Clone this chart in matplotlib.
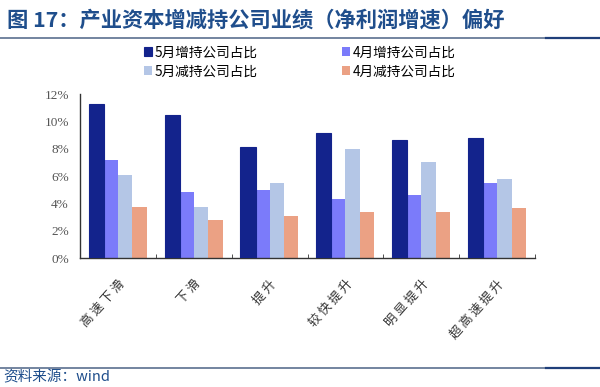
""" 产业资本增减持公司业绩（净利润增速）偏好 -- grouped bar chart """

import matplotlib
matplotlib.use('Agg')
import matplotlib.pyplot as plt
import numpy as np

plt.rcParams['font.family'] = ['Noto Sans CJK SC', 'DejaVu Sans']

## Data (percent)
categories = ['高速下滑', '下滑', '提升', '较快提升', '明显提升', '超高速提升']
may_add = [11.3, 10.45, 8.1, 9.15, 8.65, 8.75]      # 5月增持公司占比
apr_add = [7.2, 4.8, 4.95, 4.3, 4.6, 5.5]           # 4月增持公司占比
may_cut = [6.1, 3.7, 5.5, 7.95, 7.0, 5.8]           # 5月减持公司占比
apr_cut = [3.75, 2.75, 3.05, 3.4, 3.4, 3.65]        # 4月减持公司占比
yticks = [0, 2, 4, 6, 8, 10, 12]

## Colors
c_may_add = '#13238C'
c_apr_add = '#7B7BFA'
c_may_cut = '#B4C6E6'
c_apr_cut = '#EBA184'
title_color = '#1F4E8C'

fig = plt.figure(figsize=(6.0, 3.87), dpi=100)
ax = fig.add_axes([0.1333, 0.3333, 0.7584, 0.4237])

x = np.arange(len(categories))
w = 0.19
b1 = ax.bar(x - 1.5 * w, may_add, w * 1.05, color=c_may_add, edgecolor=c_may_add,
            linewidth=0.8, zorder=3)
b2 = ax.bar(x - 0.5 * w, apr_add, w, color=c_apr_add, zorder=2)
b3 = ax.bar(x + 0.5 * w, may_cut, w, color=c_may_cut, zorder=2)
b4 = ax.bar(x + 1.5 * w, apr_cut, w, color=c_apr_cut, zorder=2)

ax.set_xlim(-0.5, len(categories) - 0.5)
ax.set_ylim(0, 12)
ax.set_yticks(yticks)
ax.set_yticklabels(['%d%%' % v for v in yticks], family='Liberation Serif',
                   fontsize=9.5, color='#555555')
ax.tick_params(axis='y', length=0, pad=8)

# group boundary ticks
ax.set_xticks(np.arange(len(categories) + 1) - 0.5, minor=True)
ax.set_xticks(x)
ax.set_xticklabels([' '.join(c) for c in categories], rotation=48, ha='right',
                   va='top', rotation_mode='anchor', fontsize=9, color='#333333')
ax.tick_params(axis='x', which='major', length=0, pad=14)
ax.tick_params(axis='x', which='minor', direction='in', length=3, color='#333333')

for side in ['top', 'right']:
    ax.spines[side].set_visible(False)
ax.spines['left'].set_color('#333333')
ax.spines['bottom'].set_color('#333333')
ax.spines['left'].set_linewidth(1.0)
ax.spines['bottom'].set_linewidth(1.0)

leg = fig.legend([b1, b3, b2, b4],
                 ['5月增持公司占比', '5月减持公司占比', '4月增持公司占比', '4月减持公司占比'],
                 ncol=2, loc='center', bbox_to_anchor=(0.5, 0.84), frameon=False,
                 fontsize=9.8, handlelength=0.6, handleheight=0.6, columnspacing=6.2,
                 labelspacing=0.35, handletextpad=0.2, borderpad=0)

## Title and source
fig.text(0.012, 0.948, '图 17：产业资本增减持公司业绩（净利润增速）偏好', fontsize=15.3,
         fontweight='bold', color=title_color, va='center', ha='left')
fig.add_artist(plt.Line2D([0.0, 1.0], [0.902, 0.902], color='#5B6F8F', linewidth=1.2))
fig.add_artist(plt.Line2D([0.91, 1.0], [0.902, 0.902], color='#1F3F7A', linewidth=1.6))
fig.add_artist(plt.Line2D([0.0, 1.0], [0.048, 0.048], color='#5B6F8F', linewidth=1.2))
fig.add_artist(plt.Line2D([0.91, 1.0], [0.048, 0.048], color='#1F3F7A', linewidth=1.6))
fig.text(0.005, 0.025, '资料来源：wind', fontsize=10.5, style='italic',
         color=title_color, va='center', ha='left')

fig.savefig('out.png', dpi=100)
